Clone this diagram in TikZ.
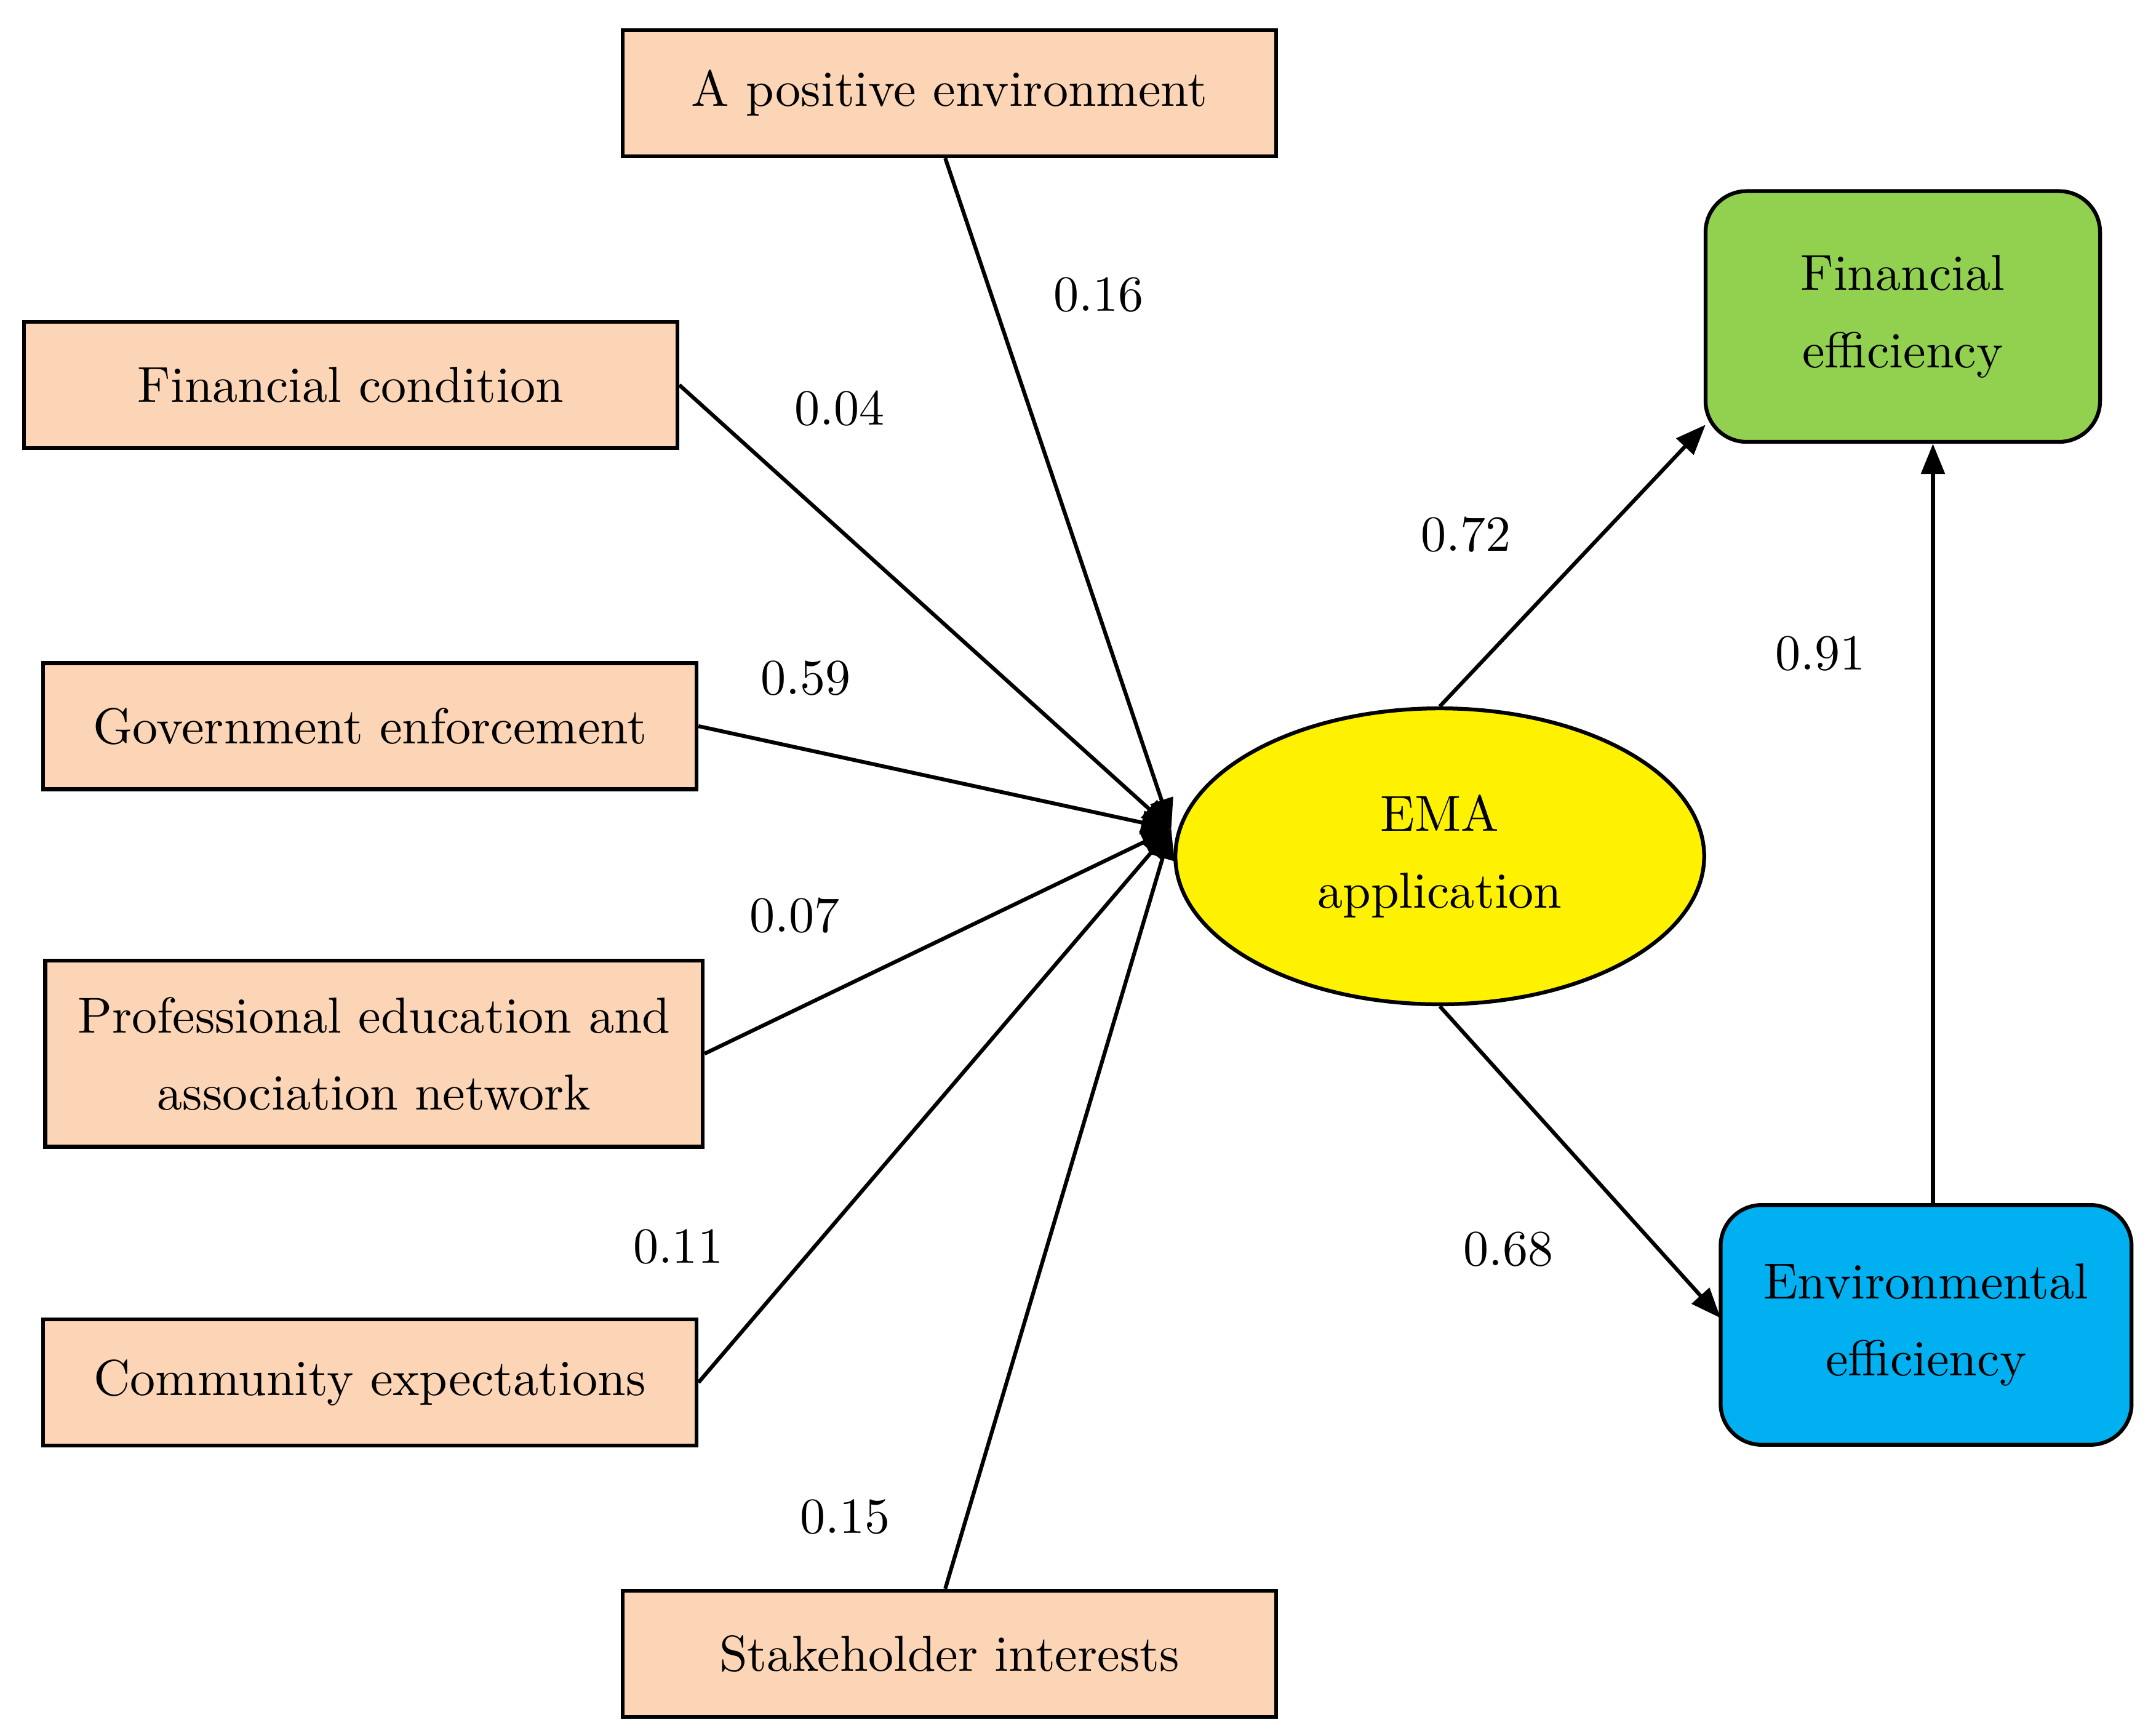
\documentclass[tikz,border=0pt]{standalone}
\usetikzlibrary{arrows.meta,shapes.geometric}
\tikzset{
  factor/.style={draw,thick,fill=peach,minimum width=4.77cm,minimum height=0.92cm,align=center,font=\fontsize{10.5}{16}\selectfont},
  outcome/.style={draw,thick,rounded corners=0.3cm,align=center,font=\fontsize{10.5}{16}\selectfont},
  path/.style={thick,-{Triangle[length=0.22cm,width=0.17cm]}},
  coef/.style={font=\fontsize{10.5}{12}\selectfont}
}
\definecolor{peach}{HTML}{FBD5B5}
\definecolor{fingreen}{HTML}{92D050}
\definecolor{envblue}{HTML}{00B0F0}
\begin{document}
\begin{tikzpicture}
\useasboundingbox (0,0) rectangle (15.68,-12.67);

%% Determinants
\node[factor] (pos) at (6.93,-0.68) {A positive environment};
\node[factor] (fin) at (2.56,-2.81) {Financial condition};
\node[factor] (gov) at (2.70,-5.30) {Government enforcement};
\node[factor,minimum width=4.8cm,minimum height=1.36cm] (edu) at (2.73,-7.69) {Professional education and\\association network};
\node[factor] (com) at (2.70,-10.09) {Community expectations};
\node[factor] (stk) at (6.93,-12.07) {Stakeholder interests};

% EMA
\node[draw,thick,ellipse,fill=yellow,minimum width=3.86cm,minimum height=2.16cm,align=center,font=\fontsize{10.5}{16}\selectfont] (ema) at (10.51,-6.25) {EMA\\application};
\coordinate (hub) at (8.55,-6.05);

% Outcomes
\node[outcome,fill=fingreen,minimum width=2.88cm,minimum height=1.83cm] (feff) at (13.89,-2.31) {Financial\\efficiency};
\node[outcome,fill=envblue,minimum width=3.0cm,minimum height=1.75cm] (eeff) at (14.06,-9.67) {Environmental\\efficiency};
\coordinate (fin in) at (12.45,-3.1);
\coordinate (env in) at (12.56,-9.62);

%% Paths into EMA
\draw[path] ([xshift=-0.03cm]pos.south) -- (hub);
\draw[path] (fin.east) -- (hub);
\draw[path] (gov.east) -- (hub);
\draw[path] (edu.east) -- (hub);
\draw[path] (com.east) -- (hub);
\draw[path] ([xshift=-0.03cm]stk.north) -- (hub);

%% Paths out of EMA
\draw[path] (ema.north) -- (fin in);
\draw[path] (ema.south) -- (env in);
\draw[path] ([xshift=0.05cm]eeff.north) -- ([xshift=0.22cm]feff.south);

% Coefficients
\node[coef] (c1) at (8.02,-2.15) {0.16};
\node[coef] (c2) at (6.13,-2.98) {0.04};
\node[coef] (c3) at (5.88,-4.95) {0.59};
\node[coef] (c4) at (5.80,-6.68) {0.07};
\node[coef] (c5) at (4.95,-9.10) {0.11};
\node[coef] (c6) at (6.17,-11.07) {0.15};
\node[coef] (c7) at (10.70,-3.90) {0.72};
\node[coef] (c8) at (13.29,-4.77) {0.91};
\node[coef] (c9) at (11.01,-9.12) {0.68};
\end{tikzpicture}
\end{document}
